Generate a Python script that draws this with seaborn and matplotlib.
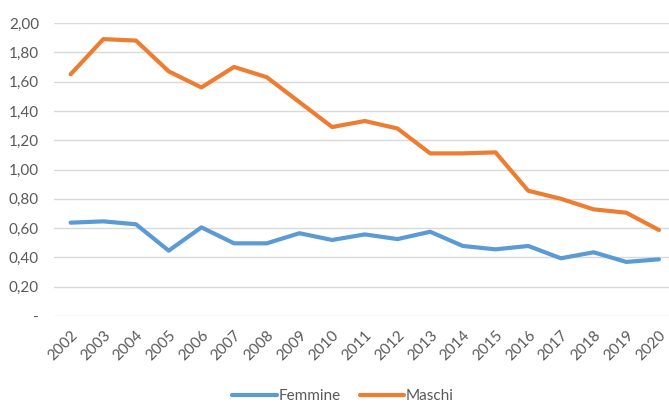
import matplotlib
matplotlib.use("Agg")
import matplotlib.pyplot as plt
import seaborn as sns
import pandas as pd
from matplotlib.ticker import FuncFormatter, FixedLocator

years = [str(y) for y in range(2002, 2021)]
femmine = [0.637, 0.646, 0.626, 0.446, 0.605, 0.496, 0.496, 0.565, 0.519, 0.557,
           0.525, 0.575, 0.478, 0.455, 0.478, 0.394, 0.435, 0.369, 0.387]
maschi = [1.65, 1.89, 1.88, 1.67, 1.56, 1.70, 1.63, 1.46, 1.29, 1.331,
          1.28, 1.11, 1.11, 1.117, 0.855, 0.80, 0.728, 0.705, 0.587]
series = ["Femmine", "Maschi"]
colors = ["#5B9BD5", "#ED7D31"]

df = pd.DataFrame({
    "anno": years * 2,
    "valore": femmine + maschi,
    "serie": [series[0]] * len(years) + [series[1]] * len(years),
})

sns.set_theme(style="white")
plt.rcParams["font.family"] = ["Lato", "DejaVu Sans"]

fig = plt.figure(figsize=(6.69, 4.05), dpi=100)
ax = fig.add_axes([54.3 / 669, 1 - 316 / 405, 621 / 669, (316 - 23) / 405])

sns.lineplot(data=df, x="anno", y="valore", hue="serie", palette=colors,
             linewidth=3, ax=ax, sort=False, legend=True)

ax.set_xlim(-0.5, len(years) - 0.5)
ax.set_ylim(0, 2.0)
ax.yaxis.set_major_locator(FixedLocator([i * 0.2 for i in range(11)]))
ax.yaxis.set_major_formatter(FuncFormatter(
    lambda v, p: "-" if abs(v) < 1e-9 else f"{v:.2f}".replace(".", ",")))
ax.grid(axis="y", color="#D9D9D9", linewidth=1)
ax.grid(axis="x", visible=False)
for s in ax.spines.values():
    s.set_visible(False)
ax.set_xlabel("")
ax.set_ylabel("")
ax.tick_params(axis="both", length=0, colors="#595959", labelsize=11)
ax.tick_params(axis="y", pad=11)
for lbl in ax.get_yticklabels():
    lbl.set_horizontalalignment("right")
plt.setp(ax.get_xticklabels(), rotation=45, ha="right", rotation_mode="anchor")
ax.tick_params(axis="x", pad=9)

leg = ax.legend(loc="lower center", bbox_to_anchor=(0.5 - 0.035, -0.345), ncol=2,
                frameon=False, fontsize=11, handlelength=2.9, columnspacing=1.3,
                handletextpad=0.1)
for t in leg.get_texts():
    t.set_color("#595959")

fig.savefig("out.png", dpi=100)
